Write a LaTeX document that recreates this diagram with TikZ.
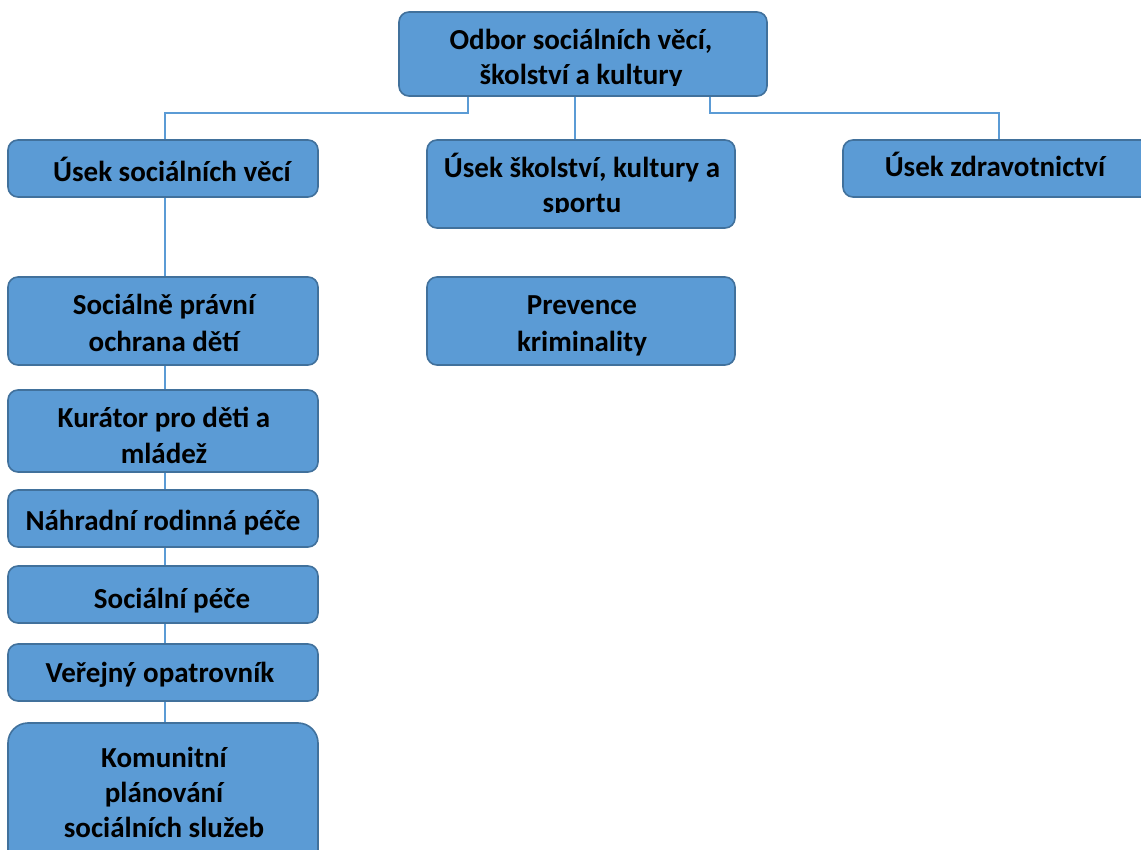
\documentclass[tikz,border=0pt]{standalone}
\usepackage{fontspec}
\setmainfont{Carlito}
\definecolor{boxfill}{HTML}{5B9BD5}
\definecolor{boxline}{HTML}{41719C}
\definecolor{connline}{HTML}{5B9BD5}
\tikzset{
  orgbox/.style={draw=boxline, fill=boxfill, line width=1.6pt, rounded corners=10pt, inner sep=0pt},
  conn/.style={draw=connline, line width=1.6pt},
  txt/.style={font=\bfseries\fontsize{29}{35}\selectfont, anchor=base, inner sep=0pt, text=black}
}
\begin{document}
\begin{tikzpicture}[x=1pt,y=-1pt]
\useasboundingbox (0,0) rectangle (1141,850);
% boxes
\node[orgbox, minimum width=368pt, minimum height=84pt] (top) at (583,54) {};
\node[orgbox, minimum width=310pt, minimum height=57pt] (s1) at (163,168.5) {};
\node[orgbox, minimum width=308pt, minimum height=88pt] (s2) at (581,184) {};
\node[orgbox, minimum width=312pt, minimum height=57pt] (z1) at (999,168.5) {};
\node[orgbox, minimum width=308pt, minimum height=88pt] (p1) at (581,321) {};
\node[orgbox, minimum width=310pt, minimum height=88pt] (l1) at (163,321) {};
\node[orgbox, minimum width=310pt, minimum height=82pt] (l2) at (163,431) {};
\node[orgbox, minimum width=310pt, minimum height=57pt] (l3) at (163,518.5) {};
\node[orgbox, minimum width=310pt, minimum height=57pt] (l4) at (163,594.5) {};
\node[orgbox, minimum width=310pt, minimum height=57pt] (l5) at (163,672.5) {};
\node[orgbox, rounded corners=20pt, minimum width=310pt, minimum height=157pt] (l6) at (163,801.5) {};
% connectors
\draw[conn] ([xshift=-115pt]top.south) -- ++(0,-16pt) -| ([xshift=2pt]s1.north);
\draw[conn] ([xshift=-8pt]top.south) -- ([xshift=-6pt]s2.north);
\draw[conn] ([xshift=127pt]top.south) -- ++(0,-16pt) -| (z1.north);
\draw[conn] ([xshift=2pt]s1.south) -- ([xshift=2pt]l1.north);
\draw[conn] ([xshift=2pt]l1.south) -- ([xshift=2pt]l2.north);
\draw[conn] ([xshift=2pt]l2.south) -- ([xshift=2pt]l3.north);
\draw[conn] ([xshift=2pt]l3.south) -- ([xshift=2pt]l4.north);
\draw[conn] ([xshift=2pt]l4.south) -- ([xshift=2pt]l5.north);
\draw[conn] ([xshift=2pt]l5.south) -- ([xshift=2pt]l6.north);
% texts
\begin{scope}
\clip (399,12) rectangle (767,86);
\node[txt] (t0a) at (581,50) {Odbor sociálních věcí,};
\node[txt] (t0b) at (581,85) {školství a kultury};
\end{scope}
\node[txt] (t1) at (172,182) {Úsek sociálních věcí};
\begin{scope}
\clip (427,140) rectangle (735,213);
\node[txt] (t2a) at (582,178) {Úsek školství, kultury a};
\node[txt] (t2b) at (582,213) {sportu};
\end{scope}
\node[txt] (t3) at (995,177) {Úsek zdravotnictví};
\node[txt] (t4a) at (582,315) {Prevence};
\node[txt] (t4b) at (582,352) {kriminality};
\node[txt] (t5a) at (164,315) {Sociálně právní};
\node[txt] (t5b) at (164,352) {ochrana dětí};
\node[txt] (t6a) at (164,427) {Kurátor pro děti a};
\node[txt] (t6b) at (164,463) {mládež};
\node[txt] (t7) at (163,530) {Náhradní rodinná péče};
\node[txt] (t8) at (172,608) {Sociální péče};
\node[txt] (t9) at (160,682) {Veřejný opatrovník};
\node[txt] (t10a) at (164,767) {Komunitní};
\node[txt] (t10b) at (164,802) {plánování};
\node[txt] (t10c) at (164,837) {sociálních služeb};
\end{tikzpicture}
\end{document}
